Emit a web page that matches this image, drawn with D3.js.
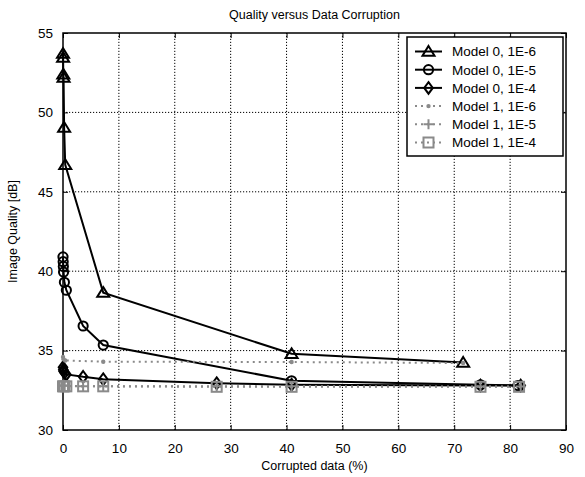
<!DOCTYPE html>
<html>
<head>
<meta charset="utf-8">
<script src="https://cdn.jsdelivr.net/npm/d3@7"></script>
<style>
  body { margin: 0; background: #fff; }
  text { font-family: "Liberation Sans", Arial, Helvetica, sans-serif; }
</style>
</head>
<body>
<svg id="chart" width="585" height="477"></svg>
<script>
// Axis ticks
const xTicks = [0, 10, 20, 30, 40, 50, 60, 70, 80, 90];
const yTicks = [30, 35, 40, 45, 50, 55];

// Series: [corrupted data %, image quality dB]
const model0e6 = [[0, 53.7], [0.02, 53.45], [0.05, 52.4], [0.1, 52.2], [0.2, 49.05], [0.4, 46.7], [7.2, 38.65], [40.9, 34.8], [71.6, 34.25]];
const model0e5 = [[0, 40.9], [0.03, 40.6], [0.06, 40.3], [0.1, 39.95], [0.25, 39.3], [0.6, 38.8], [3.6, 36.55], [7.2, 35.35], [40.9, 33.1], [74.7, 32.85], [81.4, 32.8]];
const model0e4 = [[0, 33.95], [0.05, 33.8], [0.1, 33.7], [0.3, 33.6], [0.6, 33.5], [3.6, 33.35], [7.2, 33.2], [27.5, 32.95], [40.9, 32.85], [74.7, 32.8], [81.9, 32.8]];
const model1e6 = [[0, 34.6], [0.1, 34.45], [0.4, 34.38], [7.2, 34.3], [40.9, 34.28], [71.6, 34.22]];
const model1e5 = [[0, 32.8], [0.3, 32.78], [3.6, 32.76], [7.2, 32.76], [27.5, 32.75], [40.9, 32.75], [74.7, 32.74], [81.9, 32.74]];
const model1e4 = [[0, 32.75], [0.2, 32.75], [0.6, 32.75], [3.6, 32.75], [7.2, 32.75], [27.5, 32.72], [40.9, 32.72], [74.7, 32.72], [81.6, 32.72]];

const seriesNames = ["Model 0, 1E-6", "Model 0, 1E-5", "Model 0, 1E-4", "Model 1, 1E-6", "Model 1, 1E-5", "Model 1, 1E-4"];
const seriesData = [model0e6, model0e5, model0e4, model1e6, model1e5, model1e4];
const seriesMarkers = ["triangle", "circle", "diamond", "dot", "plus", "square"];

const svg = d3.select("#chart");
const margin = { left: 63, right: 19, top: 33, bottom: 47 };
const W = 585, H = 477;
const x = d3.scaleLinear().domain([0, 90]).range([margin.left, W - margin.right]);
const y = d3.scaleLinear().domain([30, 55]).range([H - margin.bottom, margin.top]);
const x0 = x.range()[0], x1 = x.range()[1], y0 = y.range()[0], y1 = y.range()[1];

// Dotted grid
const grid = svg.append("g").attr("stroke", "#000").attr("stroke-width", 1).attr("stroke-dasharray", "1.2,1.8");
grid.selectAll(".gx").data(xTicks.slice(1, -1)).join("line")
  .attr("x1", d => x(d)).attr("x2", d => x(d)).attr("y1", y0).attr("y2", y1);
grid.selectAll(".gy").data(yTicks.slice(1, -1)).join("line")
  .attr("y1", d => y(d)).attr("y2", d => y(d)).attr("x1", x0).attr("x2", x1);

// Axes with inward ticks on all four sides
const tickLen = 5;
const axB = svg.append("g").attr("transform", `translate(0,${y0})`)
  .call(d3.axisBottom(x).tickValues(xTicks).tickFormat(d3.format("d")).tickSizeInner(-tickLen).tickSizeOuter(0).tickPadding(13));
const axT = svg.append("g").attr("transform", `translate(0,${y1})`)
  .call(d3.axisTop(x).tickValues(xTicks).tickFormat("").tickSizeInner(-tickLen).tickSizeOuter(0));
const axL = svg.append("g").attr("transform", `translate(${x0},0)`)
  .call(d3.axisLeft(y).tickValues(yTicks).tickFormat(d3.format("d")).tickSizeInner(-tickLen).tickSizeOuter(0).tickPadding(10));
const axR = svg.append("g").attr("transform", `translate(${x1},0)`)
  .call(d3.axisRight(y).tickValues(yTicks).tickFormat("").tickSizeInner(-tickLen).tickSizeOuter(0));
[axB, axT, axL, axR].forEach(a => {
  a.select(".domain").remove();
  a.selectAll(".tick line").attr("stroke", "#000").attr("stroke-width", 1);
  a.selectAll(".tick text").attr("font-size", 13.5).attr("fill", "#000")
    .style("font-family", '"Liberation Sans", Arial, sans-serif');
});

// Frame
svg.append("rect").attr("x", x0).attr("y", y1).attr("width", x1 - x0).attr("height", y0 - y1)
  .attr("fill", "none").attr("stroke", "#000").attr("stroke-width", 1.5);

// Marker drawing
function drawMarker(g, kind, color) {
  if (kind === "triangle") {
    g.append("path").attr("d", "M0,-5.5L6,4.2L-6,4.2Z").attr("fill", "none").attr("stroke", color).attr("stroke-width", 2);
  } else if (kind === "circle") {
    g.append("circle").attr("r", 4.6).attr("fill", "none").attr("stroke", color).attr("stroke-width", 2);
  } else if (kind === "diamond") {
    g.append("path").attr("d", "M0,-5.8L4.3,0L0,5.8L-4.3,0Z").attr("fill", "none").attr("stroke", color).attr("stroke-width", 2);
  } else if (kind === "dot") {
    g.append("circle").attr("r", 2.2).attr("fill", color);
  } else if (kind === "plus") {
    g.append("path").attr("d", "M-5,0H5M0,-5V5").attr("stroke", color).attr("stroke-width", 2);
  } else if (kind === "square") {
    g.append("rect").attr("x", -5).attr("y", -5).attr("width", 10).attr("height", 10)
      .attr("fill", "none").attr("stroke", color).attr("stroke-width", 2);
  }
}

const line = d3.line().x(d => x(d[0])).y(d => y(d[1]));
const gray = "#8a8a8a";

seriesData.forEach((data, i) => {
  const isModel1 = i >= 3;
  const color = isModel1 ? gray : "#000";
  const g = svg.append("g");
  g.append("path").datum(data).attr("d", line).attr("fill", "none")
    .attr("stroke", color).attr("stroke-width", 2)
    .attr("stroke-dasharray", isModel1 ? "2,4" : null);
  g.selectAll("g.m").data(data).join("g").attr("class", "m")
    .attr("transform", d => `translate(${x(d[0])},${y(d[1])})`)
    .each(function () { drawMarker(d3.select(this), seriesMarkers[i], color); });
});

// Legend
const lg = svg.append("g");
lg.append("rect").attr("x", 407).attr("y", 37).attr("width", 156).attr("height", 119)
  .attr("fill", "#fff").attr("stroke", "#000").attr("stroke-width", 1.5);
seriesNames.forEach((name, i) => {
  const isModel1 = i >= 3;
  const color = isModel1 ? gray : "#000";
  const cy = 51.5 + i * 18.2;
  lg.append("line").attr("x1", 415).attr("x2", 442).attr("y1", cy).attr("y2", cy)
    .attr("stroke", color).attr("stroke-width", 2).attr("stroke-dasharray", isModel1 ? "2,4" : null);
  drawMarker(lg.append("g").attr("transform", `translate(428.5,${cy})`), seriesMarkers[i], color);
  lg.append("text").attr("x", 452).attr("y", cy).attr("dy", "0.36em")
    .attr("font-size", 13.5).attr("fill", "#000").text(name);
});

// Titles
svg.append("text").attr("x", (x0 + x1) / 2).attr("y", 19).attr("text-anchor", "middle")
  .attr("font-size", 12.5).text("Quality versus Data Corruption");
svg.append("text").attr("x", (x0 + x1) / 2).attr("y", 470).attr("text-anchor", "middle")
  .attr("font-size", 12.5).text("Corrupted data (%)");
svg.append("text").attr("transform", `translate(17,${(y0 + y1) / 2}) rotate(-90)`)
  .attr("text-anchor", "middle").attr("font-size", 12.5).text("Image Quality [dB]");
</script>
</body>
</html>
